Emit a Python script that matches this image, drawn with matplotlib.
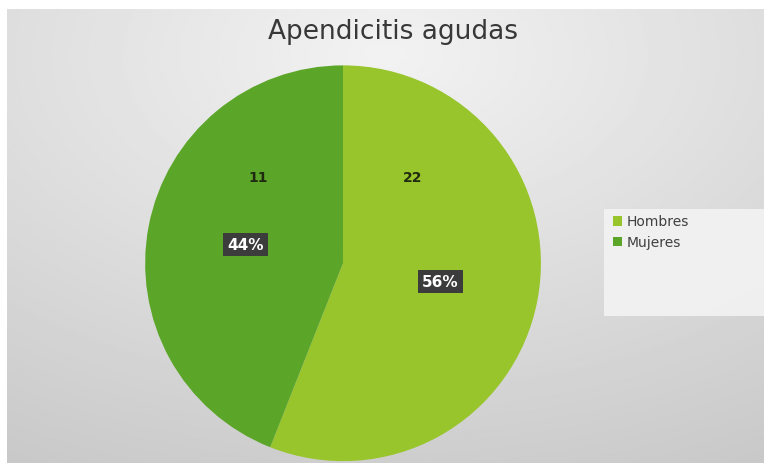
import numpy as np
import matplotlib.pyplot as plt
from matplotlib.patches import Rectangle

# Datos del grafico
categorias = ['Hombres', 'Mujeres']
porcentajes = [56, 44]
conteos = [22, 11]
colores = ['#98c52b', '#5ba628']

fig = plt.figure(figsize=(7.64, 4.64), dpi=100)
fig.patch.set_facecolor('white')

# Fondo gris con degradado radial (claro arriba al centro, mas oscuro abajo)
bg = fig.add_axes([7 / 764, 0, 1 - 7 / 764, 454 / 464])
yy, xx = np.mgrid[0:1:200j, 0:1:300j]
r = np.sqrt(((xx - 0.5) * 1.0) ** 2 + (yy - 0.1) ** 2)
gris = 0.95 - 0.16 * r
bg.imshow(gris, cmap='gray', vmin=0, vmax=1, aspect='auto',
          extent=[0, 1, 0, 1], origin='upper')
bg.axis('off')

# Caja de la leyenda
fig.patches.append(Rectangle((604 / 764, 147 / 464), 160 / 764, 107 / 464,
                             transform=fig.transFigure, facecolor='#f3f3f3',
                             edgecolor='none', alpha=0.9, zorder=1))

ax = fig.add_axes([0.190, 0.004, 0.518, 0.853])
wedges, textos, autotextos = ax.pie(
    porcentajes, colors=colores, startangle=90, counterclock=False,
    autopct='%1.0f%%', pctdistance=0.5, radius=1,
    textprops=dict(color='white', fontsize=11, fontweight='bold'))
for t in autotextos:
    t.set_bbox(dict(facecolor='#3c3c3c', edgecolor='none', pad=3))
ax.set_xlim(-1, 1)
ax.set_ylim(-1, 1)

# Etiquetas de conteo
pos_conteos = [(0.35, 0.435), (-0.43, 0.435)]
for c, (px, py) in zip(conteos, pos_conteos):
    ax.text(px, py, str(c), ha='center', va='center', fontsize=10,
            fontweight='bold', color='#1f2a10')

fig.text(393 / 764, 1 - 32 / 464, 'Apendicitis agudas', ha='center',
         va='center', fontsize=19, color='#383838')

fig.legend(wedges, categorias, loc='upper left',
           bbox_to_anchor=(600 / 764, 1 - 203 / 464), frameon=False,
           fontsize=10, handlelength=0.7, handleheight=0.7,
           handletextpad=0.3, labelspacing=0.5, labelcolor='#404040')

fig.savefig('out.png', dpi=100)
